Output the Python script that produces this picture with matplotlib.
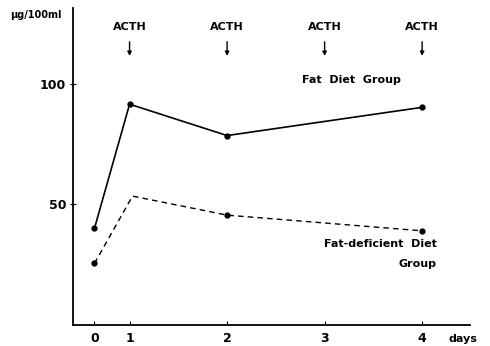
import matplotlib
matplotlib.use("Agg")
import matplotlib.pyplot as plt
import matplotlib.transforms as mtransforms

# x positions of the measurement days on the drawn axis (day 0 is drawn close to day 1)
day_pos = [0.64, 1, 2, 3, 4]
day_labels = ["0", "1", "2", "3", "4"]

fat_x = [0.64, 1, 2, 4]
fat_y = [40, 91.5, 78.5, 90.2]

def_x = [0.64, 1.03, 2, 4]
def_y = [25.5, 53.4, 45.5, 39.0]
def_marked = [True, False, True, True]

acth_days = [1, 2, 3, 4]
yticks = [50, 100]
yticklabels = ["50", "100"]

plt.rcParams['font.family'] = ['DejaVu Sans']

fig = plt.figure(figsize=(4.9, 3.46), dpi=100)
ax = fig.add_axes([0.149, 0.061, 0.81, 0.916])
ax.set_xlim(0.42, 4.49)
ax.set_ylim(0, 131.4)

ax.spines['top'].set_visible(False)
ax.spines['right'].set_visible(False)
ax.spines['left'].set_linewidth(1.3)
ax.spines['bottom'].set_linewidth(1.3)

ax.plot(fat_x, fat_y, color='black', lw=1.2, marker='o', ms=3.5)
ax.plot(def_x, def_y, color='black', lw=1.0, linestyle=(0, (4, 3)))
ax.plot([x for x, m in zip(def_x, def_marked) if m],
        [y for y, m in zip(def_y, def_marked) if m],
        linestyle='none', marker='o', ms=3.5, color='black')

ax.set_xticks(day_pos)
ax.set_xticklabels(day_labels, fontsize=9, fontweight='bold')
ax.set_yticks(yticks)
ax.set_yticklabels(yticklabels, fontsize=9, fontweight='bold')
ax.tick_params(axis='x', direction='in', length=3, pad=5)
ax.tick_params(axis='y', direction='inout', length=4, pad=3)

for d in acth_days:
    ax.annotate("ACTH", xy=(d, 111.5), xytext=(d, 123.5),
                ha='center', va='center', fontsize=8, fontweight='bold',
                arrowprops=dict(arrowstyle='-|>', color='black', lw=1.0,
                                mutation_scale=6, shrinkA=5, shrinkB=0))

ax.text(3.28, 101.6, "Fat  Diet  Group", ha='center', va='center',
        fontsize=8, fontweight='bold')
ax.text(4.15, 33.5, "Fat-deficient  Diet", ha='right', va='center',
        fontsize=8, fontweight='bold')
ax.text(4.15, 25.2, "Group", ha='right', va='center',
        fontsize=8, fontweight='bold')

trans = mtransforms.blended_transform_factory(ax.transData, ax.transAxes)
ax.text(4.42, -0.045, "days", transform=trans, ha='center', va='center',
        fontsize=8, fontweight='bold', clip_on=False)
fig.text(0.074, 0.958, "μg/100ml", ha='center', va='center',
         fontsize=7, fontweight='bold')

fig.savefig("out.png", dpi=100)
